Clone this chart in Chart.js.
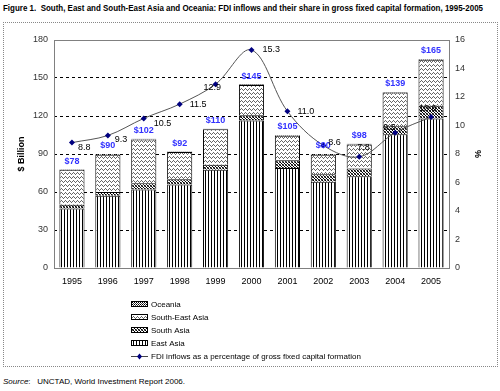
<!DOCTYPE html>
<html>
<head>
<meta charset="utf-8">
<script src="https://cdn.jsdelivr.net/npm/chart.js@4/dist/chart.umd.min.js"></script>
<style>
  body { margin: 0; width: 500px; height: 391px; background: #fff; position: relative; overflow: hidden; font-family: Arial, "Liberation Sans", sans-serif; }
  #title { position: absolute; left: 3px; top: 3px; font-weight: bold; font-size: 9px; white-space: nowrap; transform-origin: 0 0; color: #000; }
  #frame { position: absolute; left: 3px; top: 22px; width: 493px; height: 343px; border: 1px dotted #888; }
  #wrap { position: absolute; left: 4px; top: 24px; width: 492px; height: 341px; }
  #source { position: absolute; left: 3px; top: 377px; font-size: 8px; color: #000; white-space: nowrap; }
</style>
</head>
<body>
<div id="title">Figure 1.&nbsp; South, East and South-East Asia and Oceania: FDI inflows and their share in gross fixed capital formation, 1995-2005</div>
<div id="frame"></div>
<div id="wrap"><canvas id="myChart" width="492" height="341"></canvas></div>
<div id="source"><i>Source</i>:&nbsp;&nbsp; UNCTAD, World Investment Report 2006.</div>
<script>
// values ($ billion and %)
const years = ['1995', '1996', '1997', '1998', '1999', '2000', '2001', '2002', '2003', '2004', '2005'];
const eastAsia = [47, 57, 62, 66, 77.5, 116.5, 79, 68, 72.5, 105.5, 118];
const southAsia = [3, 3, 5, 4, 4, 4, 6, 6, 6, 6.5, 10];
const southEastAsia = [27.5, 29.5, 34.5, 21.5, 28, 24, 19.5, 15.5, 19, 26.5, 36.5];
const oceania = [0.5, 0.5, 0.5, 0.5, 0.5, 0.5, 0.5, 0.5, 0.5, 0.5, 0.5];
const totals = [78, 90, 102, 92, 110, 145, 105, 90, 98, 139, 165];
const fdiShare = [8.8, 9.3, 10.5, 11.5, 12.9, 15.3, 11.0, 8.6, 7.8, 9.5, 10.6];

// squeeze the title into the width the figure uses
const title = document.getElementById('title');
const tw = title.getBoundingClientRect().width;
title.style.transform = 'scaleX(' + (480 / tw) + ')';

function makePattern(w, h, draw) {
  const c = document.createElement('canvas');
  c.width = w;
  c.height = h;
  const g = c.getContext('2d');
  g.fillStyle = '#fff';
  g.fillRect(0, 0, w, h);
  g.fillStyle = '#000';
  draw(g);
  return g.createPattern(c, 'repeat');
}

// vertical lines
const eastPat = makePattern(3, 1, g => { g.fillRect(0, 0, 1, 1); });
// dense diagonal hatch
const southPat = makePattern(3, 3, g => {
  g.fillRect(0, 0, 1, 1); g.fillRect(1, 1, 1, 1); g.fillRect(2, 2, 1, 1);
  g.fillStyle = '#666';
  g.fillRect(2, 0, 1, 1); g.fillRect(0, 2, 1, 1);
});
// wavy horizontal lines
const seaPat = makePattern(4, 4, g => {
  g.fillStyle = '#666';
  g.fillRect(0, 1, 1, 1); g.fillRect(1, 0, 1, 1); g.fillRect(2, 1, 1, 1); g.fillRect(3, 2, 1, 1);
});
// dark cross hatch
const ocePat = makePattern(2, 2, g => { g.fillRect(0, 0, 1, 1); g.fillStyle = '#444'; g.fillRect(1, 1, 1, 1); });

const frameAndLabels = {
  id: 'frameAndLabels',
  beforeDatasetsDraw(chart) {
    const a = chart.chartArea;
    const ctx = chart.ctx;
    ctx.save();
    ctx.strokeStyle = '#808080';
    ctx.lineWidth = 1;
    ctx.strokeRect(Math.round(a.left) + 0.5, Math.round(a.top) + 0.5, Math.round(a.right - a.left), Math.round(a.bottom - a.top));
    ctx.restore();
  },
  afterDatasetsDraw(chart, args, opts) {
    const ctx = chart.ctx;
    const x = chart.scales.x;
    const y = chart.scales.y;
    const y1 = chart.scales.y1;
    ctx.save();
    // totals above bars
    ctx.font = 'bold 9px Arial';
    ctx.fillStyle = '#3333ff';
    ctx.textAlign = 'center';
    ctx.textBaseline = 'middle';
    totals.forEach((t, i) => {
      ctx.fillText('$' + t, x.getPixelForValue(i), y.getPixelForValue(t) - 8);
    });
    // line value labels
    ctx.font = '9px Arial';
    ctx.fillStyle = '#000';
    ctx.textAlign = 'left';
    fdiShare.forEach((v, i) => {
      const o = opts.offsets[i];
      ctx.fillText(v.toFixed(1), x.getPixelForValue(i) + o[0], y1.getPixelForValue(v) + o[1]);
    });

    // legend, one item per row, in the space under the axis
    const items = [
      { label: 'Oceania', fill: ocePat },
      { label: 'South-East Asia', fill: seaPat },
      { label: 'South Asia', fill: southPat },
      { label: 'East Asia', fill: eastPat },
      { label: 'FDI inflows as a percentage of gross fixed capital formation', line: true }
    ];
    const lx = 127;
    let ly = 280;
    ctx.font = '8px Arial';
    items.forEach(it => {
      if (it.line) {
        ctx.strokeStyle = '#444';
        ctx.beginPath();
        ctx.moveTo(lx, ly + 0.5);
        ctx.lineTo(lx + 17, ly + 0.5);
        ctx.stroke();
        ctx.fillStyle = '#000080';
        ctx.beginPath();
        ctx.moveTo(lx + 8.5, ly - 2.5);
        ctx.lineTo(lx + 11, ly + 0.5);
        ctx.lineTo(lx + 8.5, ly + 3.5);
        ctx.lineTo(lx + 6, ly + 0.5);
        ctx.closePath();
        ctx.fill();
      } else {
        ctx.fillStyle = it.fill;
        ctx.fillRect(lx, ly - 3, 17, 6);
        ctx.strokeStyle = '#000';
        ctx.strokeRect(lx + 0.5, ly - 2.5, 16, 5);
      }
      ctx.fillStyle = '#000';
      ctx.fillText(it.label, lx + 20, ly + 1);
      ly += 13;
    });
    ctx.restore();
  }
};

new Chart('myChart', {
  type: 'bar',
  data: {
    labels: years,
    datasets: [
      { label: 'FDI inflows as a percentage of gross fixed capital formation', type: 'line', data: fdiShare, yAxisID: 'y1', order: 0,
        borderColor: '#555', borderWidth: 1, tension: 0.35, pointStyle: 'rectRot', pointRadius: 3,
        pointBackgroundColor: '#000080', pointBorderColor: '#000080', pointBorderWidth: 0 },
      { label: 'East Asia', data: eastAsia, backgroundColor: eastPat, borderColor: '#000', borderWidth: 1, order: 1 },
      { label: 'South Asia', data: southAsia, backgroundColor: southPat, borderColor: '#000', borderWidth: 1, order: 1 },
      { label: 'South-East Asia', data: southEastAsia, backgroundColor: seaPat, borderColor: '#000', borderWidth: 1, order: 1 },
      { label: 'Oceania', data: oceania, backgroundColor: ocePat, borderColor: '#000', borderWidth: 0.5, order: 1 }
    ]
  },
  options: {
    responsive: false,
    animation: false,
    layout: { padding: { top: 16, left: 12, right: 13 } },
    datasets: { bar: { categoryPercentage: 1, barPercentage: 0.7 } },
    plugins: {
      legend: { display: false },
      tooltip: { enabled: false },
      frameAndLabels: {
        offsets: [[6, 5], [7, 4], [10, 5], [10, 0], [-12, 3], [11, 0], [10, 0], [5, -3], [-2, -9], [-12, -5], [-12, -8]]
      }
    },
    scales: {
      x: {
        stacked: true,
        grid: { display: false },
        border: { display: false },
        ticks: { font: { size: 9, family: 'Arial' }, color: '#000', maxRotation: 0, padding: 0 },
        afterFit(s) { s.height = 97; }
      },
      y: {
        stacked: true,
        min: 0, max: 180,
        ticks: { stepSize: 30, font: { size: 9, family: 'Arial' }, color: '#333', padding: 6 },
        grid: { color: ctx => (ctx.tick.value === 0 || ctx.tick.value === 180) ? 'rgba(0,0,0,0)' : '#000', drawTicks: false, lineWidth: 1 },
        border: { display: false, dash: [3, 3] },
        title: { display: true, text: '$ Billion', font: { size: 9, weight: 'bold', family: 'Arial' }, color: '#000', padding: { top: 0, bottom: 0 } },
        afterFit(s) { s.width = 38; }
      },
      y1: {
        position: 'right',
        min: 0, max: 16,
        ticks: { stepSize: 2, font: { size: 9, family: 'Arial' }, color: '#333', padding: 6 },
        grid: { display: false, drawTicks: false },
        border: { display: false },
        title: { display: true, text: '%', font: { size: 9, weight: 'bold', family: 'Arial' }, color: '#000', padding: { top: 0, bottom: 0 } },
        afterFit(s) { s.width = 34; }
      }
    }
  },
  plugins: [frameAndLabels]
});
</script>
</body>
</html>
